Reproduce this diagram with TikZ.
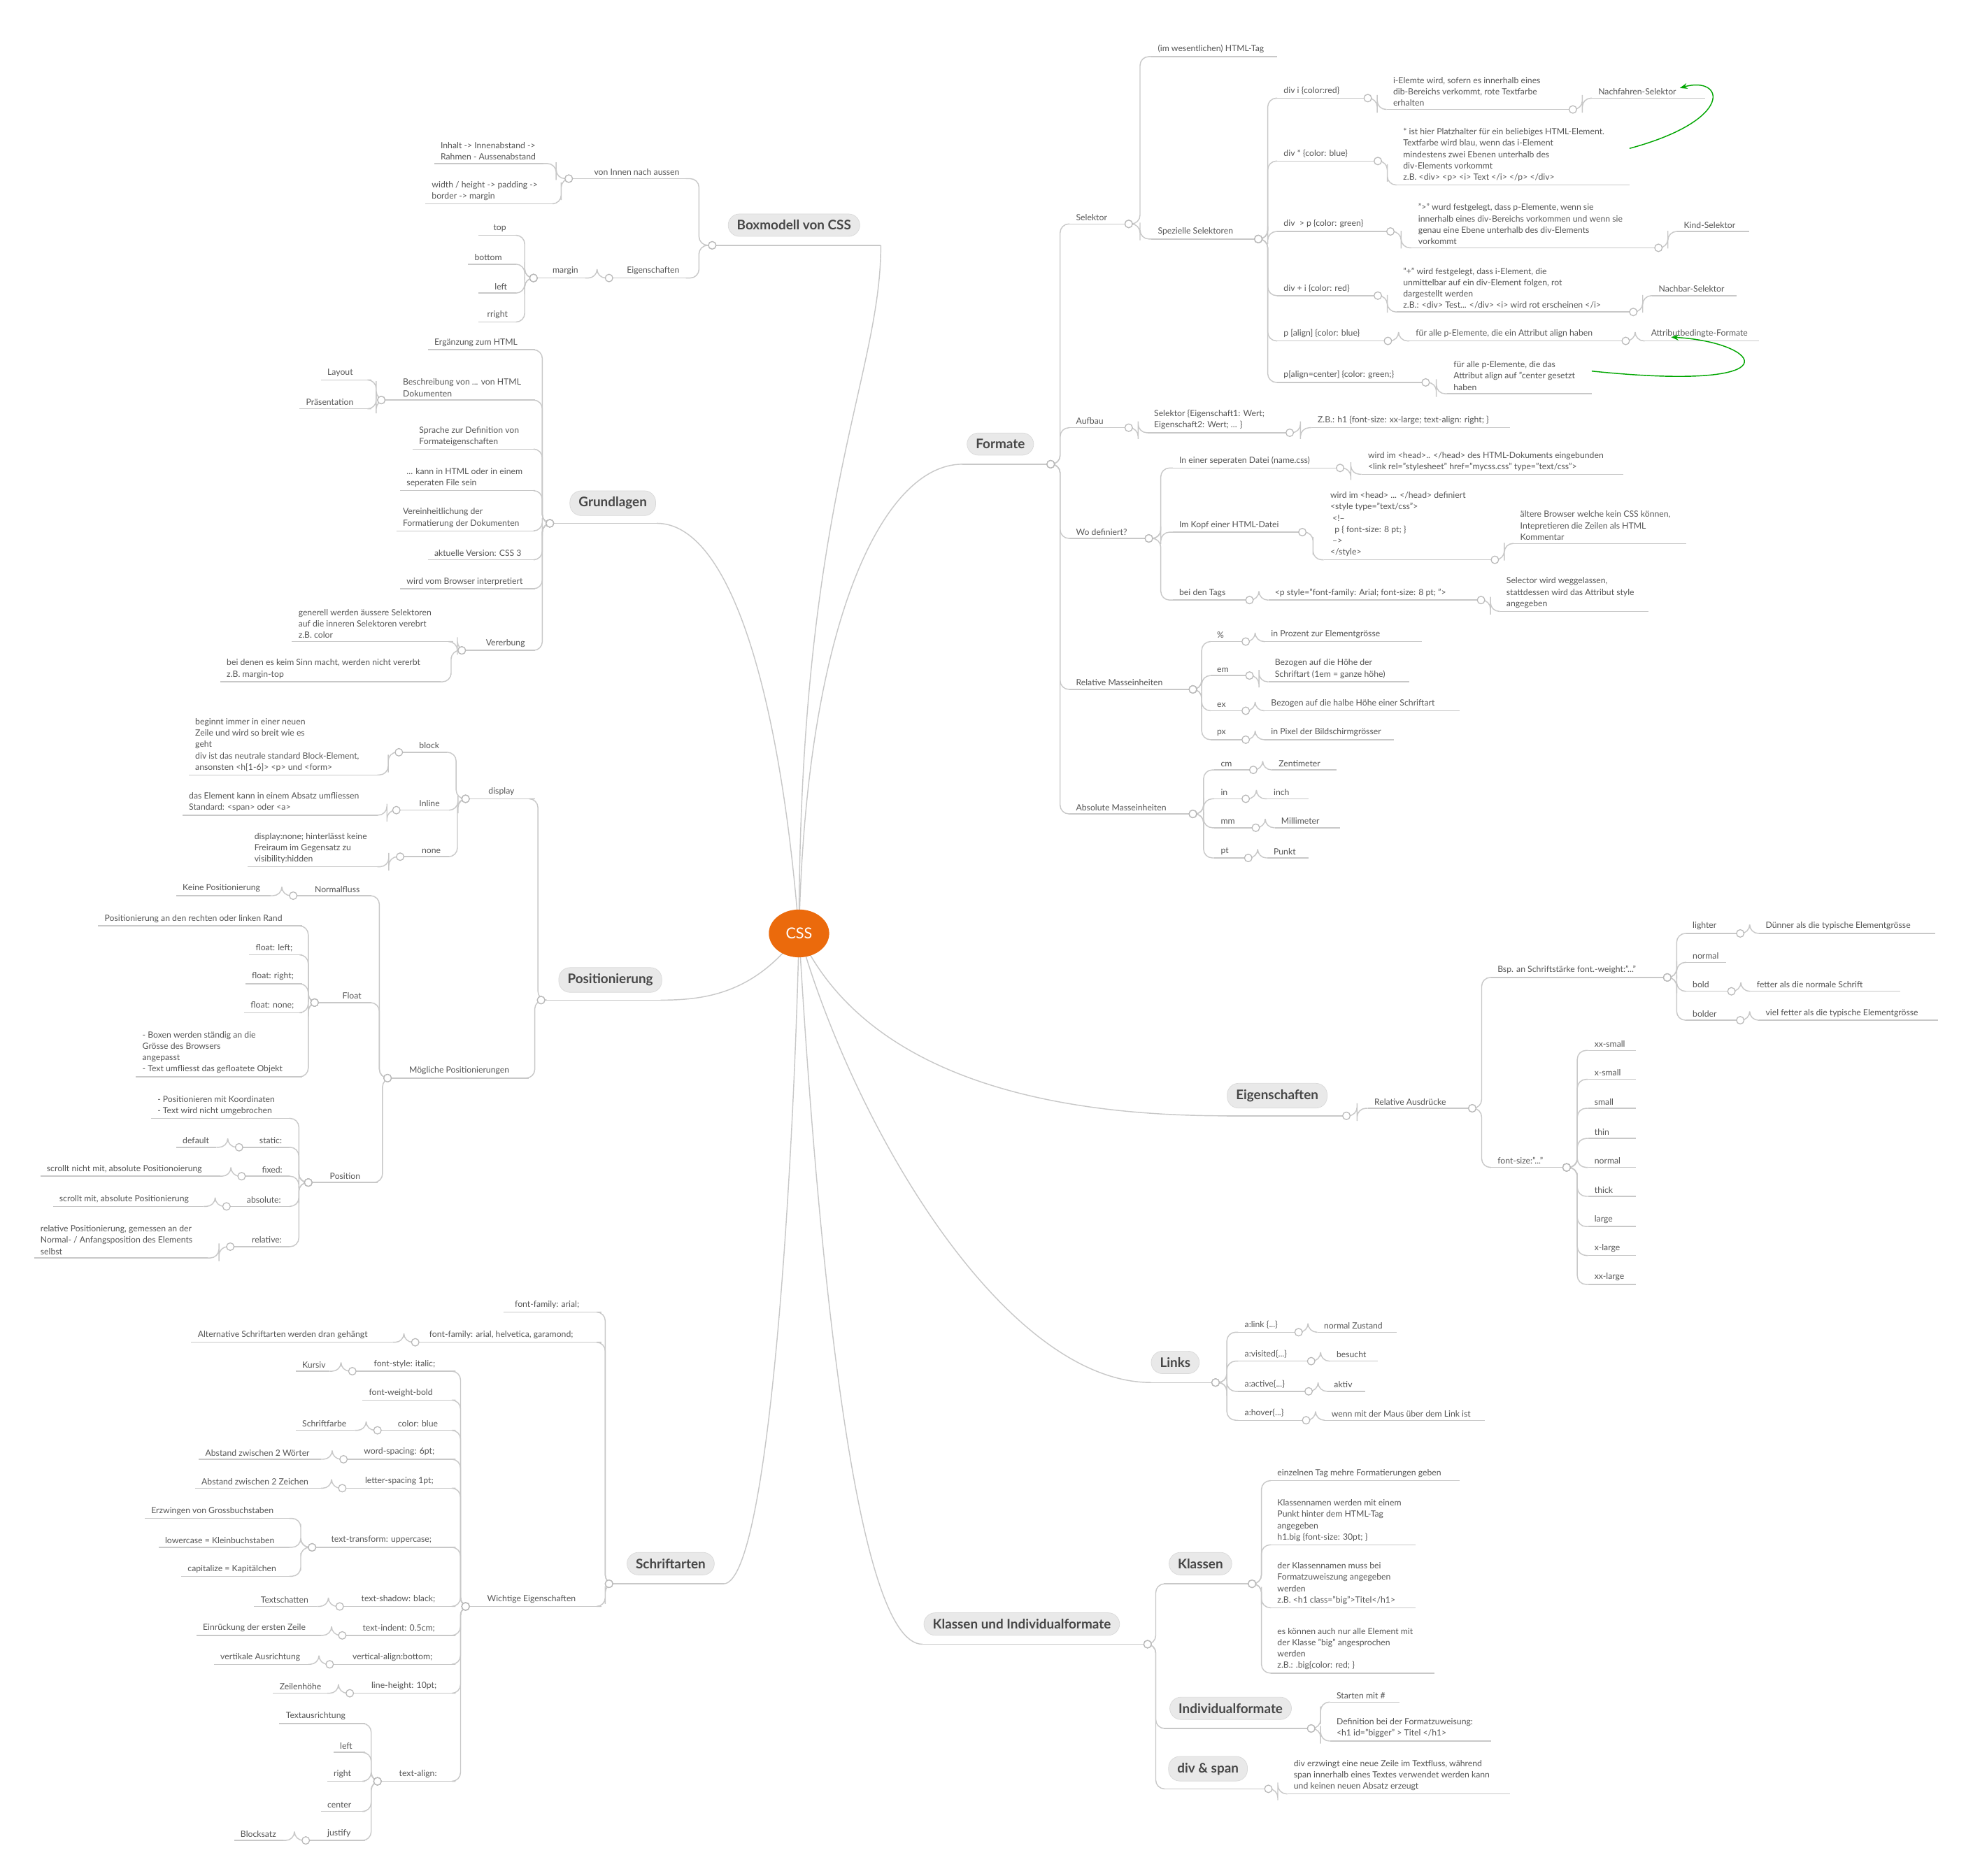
\documentclass[tikz,border=0pt]{standalone}
\usepackage{fontspec}
\setmainfont{Lato}
\usetikzlibrary{calc,shapes.geometric,arrows.meta}
\definecolor{tx}{HTML}{555555}
\definecolor{ln}{HTML}{C8C8C8}
\definecolor{cssor}{HTML}{EB6A0C}
\tikzset{
 lnst/.style={draw=ln,line width=0.8pt},
 txt/.style={inner sep=0pt,align=left,font=\fontsize{6.8}{9}\selectfont,text=tx,yshift=2.5pt},
 dot/.style={circle,draw=gray!55,fill=white,inner sep=0pt,minimum size=6pt,line width=0.7pt},
 topicbox/.style={rounded corners=9pt,fill=gray!17,draw=gray!30,text=gray!55!black,font=\fontsize{10.5}{12}\selectfont\bfseries,inner xsep=7pt,inner ysep=5pt},
 grn/.style={draw=green!65!black,line width=0.8pt,-{Stealth[length=6pt]}}
}
\newcommand\mitem[5]{%
 \coordinate (#1L) at (#2,#4); \coordinate (#1R) at (#3,#4);
 \draw[lnst] (#1L) -- (#1R);
 \node[txt,anchor=south west] (#1) at ($(#1L)+(5,0)$) {#5};}
\newcommand\topic[6]{%
 \node[topicbox] (#1) at (#2,#3) {#4};
 \coordinate (#1L) at (#5,#3+16); \coordinate (#1R) at (#6,#3+16);
 \draw[lnst] (#1L) -- (#1R);}
\newcommand\conR[2]{\draw[lnst,rounded corners=7pt] (#1R) -| ($(#1R)!0.5!(#2L)$) |- (#2L); \node[dot] at (#1R) {};}
\newcommand\conL[2]{\draw[lnst,rounded corners=7pt] (#1L) -| ($(#1L)!0.5!(#2R)$) |- (#2R); \node[dot] at (#1L) {};}
\begin{document}
\begin{tikzpicture}[x=1pt,y=-1pt]
\useasboundingbox (0,0) rectangle (1568,1491);
% ===== main connectors =====
\coordinate (cc) at (635,742);
\topic{F}{795}{353}{Formate}{765}{835}
\topic{E}{1015}{871}{Eigenschaften}{975}{1070}
\topic{Li}{934}{1083}{Links}{915}{966}
\topic{K}{812}{1291}{Klassen und Individualformate}{733}{912}
\topic{B}{631}{179}{Boxmodell von CSS}{566}{700}
\topic{G}{487}{400}{Grundlagen}{437}{522}
\topic{P}{485}{779}{Positionierung}{430}{525}
\topic{S}{533}{1243}{Schriftarten}{484}{575}
\draw[lnst] (cc) .. controls (640,500) and (700,369) .. (FL);
\draw[lnst] (cc) .. controls (680,840) and (800,887) .. (EL);
\draw[lnst] (cc) .. controls (680,900) and (800,1099) .. (LiL);
\draw[lnst] (cc) .. controls (650,1000) and (680,1307) .. (KL);
\draw[lnst] (cc) .. controls (635,400) and (700,300) .. (BR);
\draw[lnst] (cc) .. controls (620,550) and (580,416) .. (GR);
\draw[lnst] (cc) .. controls (600,790) and (560,795) .. (PR);
\draw[lnst] (cc) .. controls (630,950) and (610,1259) .. (SR);
\node[ellipse,fill=cssor,text=white,minimum width=48pt,minimum height=38pt,inner sep=0pt,font=\fontsize{12}{14}\selectfont] (css) at (cc) {CSS};
% ===== Formate =====
\mitem{sel}{850}{897}{178}{Selektor}
\mitem{html}{915}{1015}{45}{(im wesentlichen) HTML-Tag}
\mitem{spz}{915}{1000}{190}{Spezielle Selektoren}
\mitem{dii}{1015}{1087}{78}{div i \{color:red\}}
\mitem{diit}{1102}{1250}{87}{i-Elemte wird, sofern es innerhalb eines\\dib-Bereichs verkommt, rote Textfarbe\\erhalten}
\mitem{nach}{1265}{1355}{78}{Nachfahren-Selektor}
\mitem{dis}{1015}{1095}{128}{div * \{color: blue\}}
\mitem{dist}{1110}{1295}{147}{* ist hier Platzhalter für ein beliebiges HTML-Element.\\Textfarbe wird blau, wenn das i-Element\\mindestens zwei Ebenen unterhalb des\\div-Elements vorkommt\\z.B. <div> <p> <i> Text </i> </p> </div>}
\mitem{dgp}{1015}{1105}{184}{div \ > p \{color: green\}}
\mitem{dgpt}{1122}{1318}{197}{">" wurd festgelegt, dass p-Elemente, wenn sie\\innerhalb eines div-Bereichs vorkommen und wenn sie\\genau eine Ebene unterhalb des div-Elements\\vorkommt}
\mitem{kind}{1333}{1390}{184}{Kind-Selektor}
\mitem{dpi}{1015}{1095}{235}{div + i \{color: red\}}
\mitem{dpit}{1110}{1298}{248}{"+" wird festgelegt, dass i-Element, die\\unmittelbar auf ein div-Element folgen, rot\\dargestellt werden\\z.B.: <div> Test... </div> <i> wird rot erscheinen </i>}
\mitem{nb}{1313}{1380}{235}{Nachbar-Selektor}
\mitem{pal}{1015}{1103}{271}{p [align] \{color: blue\}}
\mitem{palt}{1120}{1292}{271}{für alle p-Elemente, die ein Attribut align haben}
\mitem{attr}{1307}{1398}{271}{Attributbedingte-Formate}
\mitem{pac}{1015}{1133}{304}{p[align=center] \{color: green;\}}
\mitem{pact}{1150}{1265}{313}{für alle p-Elemente, die das\\Attribut align auf "center gesetzt\\haben}
\mitem{auf}{850}{897}{340}{Aufbau}
\mitem{aufs}{912}{1025}{344}{Selektor \{Eigenschaft1: Wert;\\Eigenschaft2: Wert; ... \}}
\mitem{aufz}{1042}{1200}{340}{Z.B.: h1 \{font-size: xx-large; text-align: right; \}}
\mitem{wo}{850}{913}{428}{Wo definiert?}
\mitem{sep}{932}{1065}{372}{In einer seperaten Datei (name.css)}
\mitem{sept}{1082}{1290}{377}{wird im <head>.. </head> des HTML-Dokuments eingebunden\\<link rel="stylesheet" href="mycss.css" type="text/css">}
\mitem{kopf}{932}{1035}{423}{Im Kopf einer HTML-Datei}
\mitem{kopft}{1052}{1188}{445}{wird im <head> ... </head> definiert\\<style type="text/css">\\ \ <!--\\ \ \ p \{ font-size: 8 pt; \}\\ \ -->\\</style>}
\mitem{alt}{1203}{1340}{432}{ältere Browser welche kein CSS können,\\Intepretieren die Zeilen als HTML\\Kommentar}
\mitem{tags}{932}{993}{477}{bei den Tags}
\mitem{tagst}{1008}{1177}{477}{<p style="font-family: Arial; font-size: 8 pt; ">}
\mitem{sw}{1192}{1310}{486}{Selector wird weggelassen,\\stattdessen wird das Attribut style\\angegeben}
\mitem{rel}{850}{948}{548}{Relative Masseinheiten}
\mitem{pc}{962}{990}{510}{\%}
\mitem{pct}{1005}{1130}{510}{in Prozent zur Elementgrösse}
\mitem{em}{962}{993}{537}{em}
\mitem{emt}{1008}{1120}{542}{Bezogen auf die Höhe der\\Schriftart (1em = ganze höhe)}
\mitem{ex}{962}{990}{565}{ex}
\mitem{ext}{1005}{1160}{565}{Bezogen auf die halbe Höhe einer Schriftart}
\mitem{px}{962}{990}{588}{px}
\mitem{pxt}{1005}{1108}{588}{in Pixel der Bildschirmgrösser}
\mitem{abs}{850}{948}{647}{Absolute Masseinheiten}
\mitem{cm}{965}{996}{612}{cm}
\mitem{cmt}{1011}{1062}{612}{Zentimeter}
\mitem{in}{965}{990}{635}{in}
\mitem{int}{1007}{1040}{635}{inch}
\mitem{mm}{965}{998}{658}{mm}
\mitem{mmt}{1013}{1065}{658}{Millimeter}
\mitem{pt}{965}{992}{682}{pt}
\mitem{ptt}{1007}{1040}{682}{Punkt}
\conR{F}{sel}\conR{F}{auf}\conR{F}{wo}\conR{F}{rel}\conR{F}{abs}
\conR{sel}{html}\conR{sel}{spz}
\conR{spz}{dii}\conR{spz}{dis}\conR{spz}{dgp}\conR{spz}{dpi}\conR{spz}{pal}\conR{spz}{pac}
\conR{dii}{diit}\conR{diit}{nach}\conR{dis}{dist}\conR{dgp}{dgpt}\conR{dgpt}{kind}
\conR{dpi}{dpit}\conR{dpit}{nb}\conR{pal}{palt}\conR{palt}{attr}\conR{pac}{pact}
\conR{auf}{aufs}\conR{aufs}{aufz}
\conR{wo}{sep}\conR{wo}{kopf}\conR{wo}{tags}\conR{sep}{sept}\conR{kopf}{kopft}\conR{kopft}{alt}\conR{tags}{tagst}\conR{tagst}{sw}
\conR{rel}{pc}\conR{rel}{em}\conR{rel}{ex}\conR{rel}{px}
\conR{pc}{pct}\conR{em}{emt}\conR{ex}{ext}\conR{px}{pxt}
\conR{abs}{cm}\conR{abs}{in}\conR{abs}{mm}\conR{abs}{pt}
\conR{cm}{cmt}\conR{in}{int}\conR{mm}{mmt}\conR{pt}{ptt}
\coordinate (g1a) at (1295,118); \coordinate (g1b) at (1335,70);
\draw[grn] (g1a) .. controls (1380,95) and (1370,60) .. (g1b);
\coordinate (g2a) at (1265,295); \coordinate (g2b) at (1328,268);
\draw[grn] (g2a) .. controls (1430,312) and (1400,272) .. (g2b);
% ===== Eigenschaften =====
\mitem{ra}{1087}{1170}{881}{Relative Ausdrücke}
\mitem{bsp}{1185}{1325}{777}{Bsp. an Schriftstärke font.-weight:"..."}
\mitem{lig}{1340}{1383}{742}{lighter}
\mitem{ligt}{1398}{1538}{742}{Dünner als die typische Elementgrösse}
\mitem{nor}{1340}{1372}{765}{normal}
\mitem{bol}{1340}{1376}{788}{bold}
\mitem{bolt}{1391}{1510}{788}{fetter als die normale Schrift}
\mitem{bdr}{1340}{1383}{811}{bolder}
\mitem{bdrt}{1398}{1540}{811}{viel fetter als die typische Elementgrösse}
\mitem{fs}{1185}{1245}{928}{font-size:"..."}
\mitem{fa}{1262}{1300}{835}{xx-small}
\mitem{fb}{1262}{1300}{858}{x-small}
\mitem{fc}{1262}{1300}{881}{small}
\mitem{fd}{1262}{1300}{905}{thin}
\mitem{fe}{1262}{1300}{928}{normal}
\mitem{ff}{1262}{1300}{951}{thick}
\mitem{fg}{1262}{1300}{975}{large}
\mitem{fh}{1262}{1300}{998}{x-large}
\mitem{fi}{1262}{1300}{1021}{xx-large}
\conR{E}{ra}\conR{ra}{bsp}\conR{ra}{fs}
\conR{bsp}{lig}\conR{bsp}{nor}\conR{bsp}{bol}\conR{bsp}{bdr}
\conR{lig}{ligt}\conR{bol}{bolt}\conR{bdr}{bdrt}
\conR{fs}{fa}\conR{fs}{fb}\conR{fs}{fc}\conR{fs}{fd}\conR{fs}{fe}\conR{fs}{ff}\conR{fs}{fg}\conR{fs}{fh}\conR{fs}{fi}
% ===== Links =====
\mitem{al}{984}{1032}{1059}{a:link \{...\}}
\mitem{alt2}{1047}{1110}{1059}{normal Zustand}
\mitem{av}{984}{1042}{1082}{a:visited\{...\}}
\mitem{avt}{1057}{1095}{1082}{besucht}
\mitem{aa}{984}{1040}{1106}{a:active\{...\}}
\mitem{aat}{1055}{1085}{1106}{aktiv}
\mitem{ah}{984}{1038}{1129}{a:hover\{...\}}
\mitem{aht}{1053}{1180}{1129}{wenn mit der Maus über dem Link ist}
\conR{Li}{al}\conR{Li}{av}\conR{Li}{aa}\conR{Li}{ah}
\conR{al}{alt2}\conR{av}{avt}\conR{aa}{aat}\conR{ah}{aht}
% ===== Klassen =====
\topic{KK}{954}{1243}{Klassen}{925}{995}
\topic{KI}{978}{1358}{Individualformate}{925}{1042}
\topic{KD}{960}{1406}{div \& span}{925}{1008}
\mitem{k1}{1010}{1160}{1177}{einzelnen Tag mehre Formatierungen geben}
\mitem{k2}{1010}{1125}{1228}{Klassennamen werden mit einem\\Punkt hinter dem HTML-Tag\\angegeben\\h1.big \{font-size: 30pt; \}}
\mitem{k3}{1010}{1125}{1278}{der Klassennamen muss bei\\Formatzuweiszung angegeben\\werden\\z.B. <h1 class="big">Titel</h1>}
\mitem{k4}{1010}{1140}{1330}{es können auch nur alle Element mit\\der Klasse "big" angesprochen\\werden\\z.B.: .big\{color: red; \}}
\mitem{i1}{1057}{1112}{1353}{Starten mit \#}
\mitem{i2}{1057}{1185}{1384}{Definition bei der Formatzuweisung:\\<h1 id="bigger" > Titel </h1>}
\mitem{d1}{1023}{1200}{1426}{div erzwingt eine neue Zeile im Textfluss, während\\span innerhalb eines Textes verwendet werden kann\\und keinen neuen Absatz erzeugt}
\conR{K}{KK}
\conR{K}{KI}
\conR{K}{KD}
\conR{KK}{k1}\conR{KK}{k2}\conR{KK}{k3}\conR{KK}{k4}
\conR{KI}{i1}\conR{KI}{i2}\conR{KD}{d1}
% ===== Boxmodell =====
\mitem{vin}{452}{545}{142}{\hspace{15pt}von Innen nach aussen}
\mitem{v1}{345}{432}{130}{Inhalt -> Innenabstand ->\\Rahmen - Aussenabstand}
\mitem{v2}{338}{440}{162}{width / height -> padding ->\\border -> margin}
\mitem{eig}{484}{545}{221}{\hspace{9pt}Eigenschaften}
\mitem{mar}{424}{465}{221}{\hspace{10pt}margin}
\mitem{m1}{380}{410}{187}{\hspace{7pt}top}
\mitem{m2}{372}{410}{210}{bottom}
\mitem{m3}{380}{410}{233}{\hspace{8pt}left}
\mitem{m4}{380}{410}{256}{\hspace{2pt}rright}
\conL{B}{vin}\conL{B}{eig}\conL{vin}{v1}\conL{vin}{v2}\conL{eig}{mar}
\conL{mar}{m1}\conL{mar}{m2}\conL{mar}{m3}\conL{mar}{m4}
% ===== Grundlagen =====
\mitem{g1}{340}{425}{278}{Ergänzung zum HTML}
\mitem{g2}{303}{425}{318}{\hspace{12pt}Beschreibung von ... von HTML\\\hspace{12pt}Dokumenten}
\mitem{g2a}{255}{295}{302}{Layout}
\mitem{g2b}{238}{295}{325}{Präsentation}
\mitem{g3}{328}{425}{357}{Sprache zur Definition von\\Formateigenschaften}
\mitem{g4}{318}{425}{390}{... kann in HTML oder in einem\\seperaten File sein}
\mitem{g5}{315}{425}{422}{Vereinheitlichung der\\Formatierung der Dokumenten}
\mitem{g6}{340}{425}{445}{aktuelle Version: CSS 3}
\mitem{g7}{318}{425}{468}{wird vom Browser interpretiert}
\mitem{g8}{367}{425}{517}{\hspace{14pt}Vererbung}
\mitem{g8a}{232}{360}{510}{generell werden äussere Selektoren\\auf die inneren Selektoren verebrt\\z.B. color}
\mitem{g8b}{175}{350}{542}{bei denen es keim Sinn macht, werden nicht vererbt\\z.B. margin-top}
\conL{G}{g1}\conL{G}{g2}\conL{G}{g3}\conL{G}{g4}\conL{G}{g5}\conL{G}{g6}\conL{G}{g7}\conL{G}{g8}
\conL{g2}{g2a}\conL{g2}{g2b}\conL{g8}{g8a}\conL{g8}{g8b}
% ===== Positionierung =====
\mitem{disp}{370}{425}{635}{\hspace{13pt}display}
\mitem{blk}{317}{355}{598}{\hspace{11pt}block}
\mitem{blkt}{150}{300}{616}{beginnt immer in einer neuen\\Zeile und wird so breit wie es\\geht\\div ist das neutrale standard Block-Element,\\ansonsten <h[1-6]> <p> und <form>}
\mitem{inl}{315}{358}{644}{\hspace{13pt}Inline}
\mitem{inlt}{145}{300}{648}{das Element kann in einem Absatz umfliessen\\Standard: <span> oder <a>}
\mitem{non}{318}{357}{681}{\hspace{12pt}none}
\mitem{nont}{197}{300}{689}{display:none; hinterlässt keine\\Freiraum im Gegensatz zu\\visibility:hidden}
\mitem{mp}{308}{420}{857}{\hspace{12pt}Mögliche Positionierungen}
\mitem{nf}{233}{295}{712}{\hspace{12pt}Normalfluss}
\mitem{nft}{140}{215}{712}{Keine Positionierung}
\mitem{flo}{250}{295}{797}{\hspace{17pt}Float}
\mitem{fl1}{78}{240}{736}{Positionierung an den rechten oder linken Rand}
\mitem{fl2}{198}{240}{759}{float: left;}
\mitem{fl3}{195}{240}{782}{float: right;}
\mitem{fl4}{194}{240}{805}{float: none;}
\mitem{fl5}{108}{240}{856}{- Boxen werden ständig an die\\Grösse des Browsers\\angepasst\\- Text umfliesst das gefloatete Objekt}
\mitem{pos}{245}{300}{940}{\hspace{12pt}Position}
\mitem{po1}{120}{230}{889}{- Positionieren mit Koordinaten\\- Text wird nicht umgebrochen}
\mitem{po2}{190}{230}{912}{\hspace{11pt}static:}
\mitem{po2t}{140}{172}{912}{default}
\mitem{po3}{192}{230}{935}{\hspace{11pt}fixed:}
\mitem{po3t}{32}{175}{935}{scrollt nicht mit, absolute Positionoierung}
\mitem{po4}{180}{230}{959}{\hspace{11pt}absolute:}
\mitem{po4t}{42}{162}{959}{scrollt mit, absolute Positionierung}
\mitem{po5}{183}{230}{991}{\hspace{12pt}relative:}
\mitem{po5t}{27}{165}{1000}{relative Positionierung, gemessen an der\\Normal- / Anfangsposition des Elements\\selbst}
\conL{P}{disp}\conL{P}{mp}
\conL{disp}{blk}\conL{disp}{inl}\conL{disp}{non}
\conL{blk}{blkt}\conL{inl}{inlt}\conL{non}{nont}
\conL{mp}{nf}\conL{mp}{flo}\conL{mp}{pos}\conL{nf}{nft}
\conL{flo}{fl1}\conL{flo}{fl2}\conL{flo}{fl3}\conL{flo}{fl4}\conL{flo}{fl5}
\conL{pos}{po1}\conL{pos}{po2}\conL{pos}{po3}\conL{pos}{po4}\conL{pos}{po5}
\conL{po2}{po2t}\conL{po3}{po3t}\conL{po4}{po4t}\conL{po5}{po5t}
% ===== Schriftarten =====
\mitem{s1}{400}{478}{1043}{\hspace{4pt}font-family: arial;}
\mitem{s2}{330}{478}{1067}{\hspace{6pt}font-family: arial, helvetica, garamond;}
\mitem{s2t}{152}{312}{1067}{Alternative Schriftarten werden dran gehängt}
\mitem{we}{370}{478}{1277}{\hspace{12pt}Wichtige Eigenschaften}
\mitem{w1}{280}{362}{1090}{\hspace{12pt}font-style: italic;}
\mitem{w1t}{235}{262}{1090}{Kursiv}
\mitem{w2}{288}{362}{1113}{font-weight-bold}
\mitem{w3}{300}{362}{1137}{\hspace{11pt}color: blue}
\mitem{w3t}{235}{282}{1137}{Schriftfarbe}
\mitem{w4}{273}{362}{1160}{\hspace{11pt}word-spacing: 6pt;}
\mitem{w4t}{158}{255}{1160}{Abstand zwischen 2 Wörter}
\mitem{w5}{272}{362}{1183}{\hspace{13pt}letter-spacing 1pt;}
\mitem{w5t}{155}{255}{1183}{Abstand zwischen 2 Zeichen}
\mitem{w6}{248}{362}{1230}{\hspace{10pt}text-transform: uppercase;}
\mitem{w6a}{115}{230}{1207}{Erzwingen von Grossbuchstaben}
\mitem{w6b}{126}{230}{1230}{lowercase = Kleinbuchstaben}
\mitem{w6c}{144}{230}{1253}{capitalize = Kapitälchen}
\mitem{w7}{270}{362}{1277}{\hspace{12pt}text-shadow: black;}
\mitem{w7t}{202}{252}{1277}{Textschatten}
\mitem{w8}{272}{362}{1300}{\hspace{11pt}text-indent: 0.5cm;}
\mitem{w8t}{156}{255}{1300}{Einrückung der ersten Zeile}
\mitem{w9}{262}{362}{1323}{\hspace{13pt}vertical-align:bottom;}
\mitem{w9t}{170}{245}{1323}{vertikale Ausrichtung}
\mitem{w10}{278}{362}{1346}{\hspace{12pt}line-height: 10pt;}
\mitem{w10t}{217}{260}{1346}{Zeilenhöhe}
\mitem{w11}{300}{362}{1416}{\hspace{12pt}text-align:}
\mitem{ta1}{222}{290}{1370}{Textausrichtung}
\mitem{ta2}{265}{290}{1393}{left}
\mitem{ta3}{260}{290}{1416}{right}
\mitem{ta4}{255}{290}{1440}{center}
\mitem{ta5}{243}{290}{1463}{\hspace{12pt}justify}
\mitem{ta5t}{186}{225}{1463}{Blocksatz}
\conL{S}{s1}\conL{S}{s2}\conL{S}{we}\conL{s2}{s2t}
\conL{we}{w1}\conL{we}{w2}\conL{we}{w3}\conL{we}{w4}\conL{we}{w5}\conL{we}{w6}\conL{we}{w7}\conL{we}{w8}\conL{we}{w9}\conL{we}{w10}\conL{we}{w11}
\conL{w1}{w1t}\conL{w3}{w3t}\conL{w4}{w4t}\conL{w5}{w5t}
\conL{w6}{w6a}\conL{w6}{w6b}\conL{w6}{w6c}
\conL{w7}{w7t}\conL{w8}{w8t}\conL{w9}{w9t}\conL{w10}{w10t}
\conL{w11}{ta1}\conL{w11}{ta2}\conL{w11}{ta3}\conL{w11}{ta4}\conL{w11}{ta5}\conL{ta5}{ta5t}
\end{tikzpicture}
\end{document}
